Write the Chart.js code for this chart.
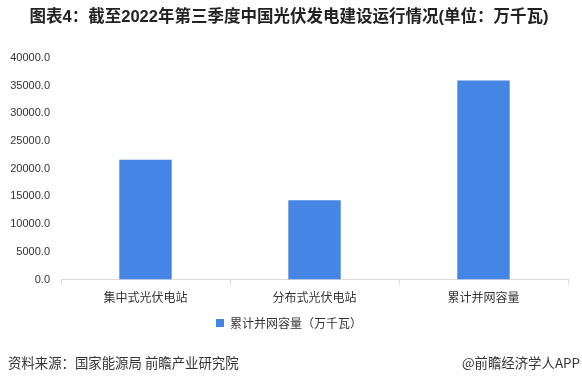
<!DOCTYPE html>
<html>
<head>
<meta charset="utf-8">
<script src="https://cdn.jsdelivr.net/npm/chart.js@4"></script>
<style>
  html, body { margin: 0; padding: 0; background: #fff; }
  #wrap { position: relative; width: 582px; height: 380px; }
  #chart { display: block; }
  .foot { position: absolute; top: 352px; font: 13.4px "Noto Sans CJK SC", sans-serif; color: #333; line-height: 20px; }
  #src { left: 8px; }
  #brand { right: 2px; }
</style>
</head>
<body>
<div id="wrap">
  <canvas id="chart" width="582" height="380"></canvas>
  <div class="foot" id="src">资料来源：国家能源局 前瞻产业研究院</div>
  <div class="foot" id="brand">@前瞻经济学人APP</div>
</div>
<script>
const categories = ['集中式光伏电站', '分布式光伏电站', '累计并网容量'];
const capacity = [21600, 14300, 35900];
const seriesName = '累计并网容量（万千瓦）';
const chartTitle = '图表4：截至2022年第三季度中国光伏发电建设运行情况(单位：万千瓦)';

const cjk = '"Noto Sans CJK SC", sans-serif';

new Chart(document.getElementById('chart'), {
    type: 'bar',
    data: {
        labels: categories,
        datasets: [{
            label: seriesName,
            data: capacity,
            backgroundColor: '#4585e4',
            categoryPercentage: 1,
            barPercentage: 0.31
        }]
    },
    options: {
        responsive: false,
        animation: false,
        layout: { padding: { left: 10, right: 14, bottom: 41 } },
        plugins: {
            title: {
                display: true,
                text: chartTitle,
                color: '#222',
                font: { family: '"Liberation Sans", "Noto Sans CJK SC", sans-serif', size: 16.5, weight: 'bold' },
                padding: { top: 8, bottom: 30 }
            },
            legend: {
                position: 'bottom',
                labels: {
                    boxWidth: 8, boxHeight: 8, padding: 6,
                    color: '#333',
                    font: { family: cjk, size: 12 }
                }
            },
            tooltip: { enabled: false }
        },
        scales: {
            y: {
                min: 0, max: 40000,
                afterFit: scale => { scale.width = 51; },
                ticks: {
                    stepSize: 5000,
                    padding: 11,
                    color: '#333',
                    font: { family: '"Liberation Sans", sans-serif', size: 11 },
                    callback: v => v.toFixed(1)
                },
                grid: { display: false, drawTicks: false, tickLength: 0 },
                border: { display: false }
            },
            x: {
                ticks: { color: '#333', font: { family: cjk, size: 12 }, padding: 6 },
                grid: { offset: true, drawOnChartArea: false, tickLength: 5, color: '#d9d9d9' },
                border: { color: '#d9d9d9' }
            }
        }
    }
});
</script>
</body>
</html>
